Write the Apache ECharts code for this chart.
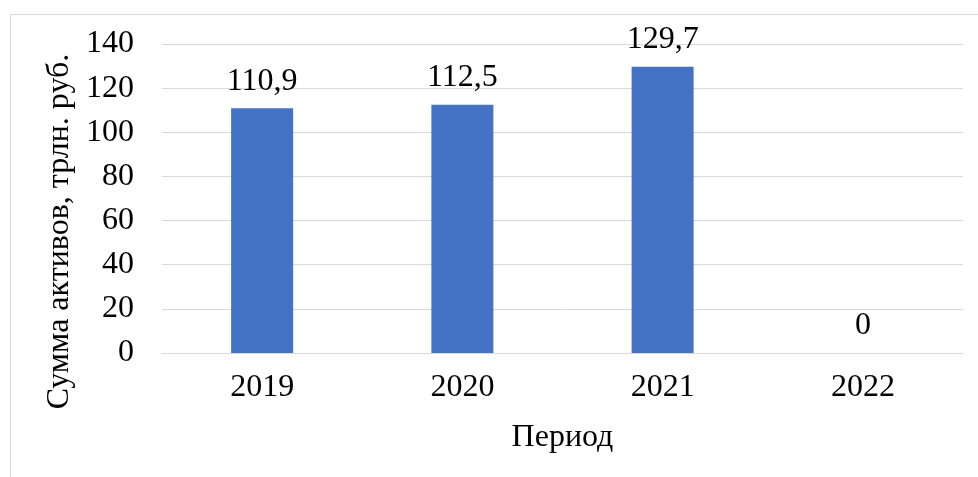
<!DOCTYPE html>
<html>
<head>
<meta charset="utf-8">
<script src="https://cdn.jsdelivr.net/npm/echarts@6/dist/echarts.min.js"></script>
<style>html,body{margin:0;padding:0;background:#fff;}#c{width:978px;height:477px;}</style>
</head>
<body>
<div id="c"></div>
<script>
var categories = ['2019', '2020', '2021', '2022'];
var values = [110.9, 112.5, 129.7, 0];
var yTicks = [0, 20, 40, 60, 80, 100, 120, 140];

var FONT = 'Liberation Serif';
var FS = 32;
var chart = echarts.init(document.getElementById('c'));
chart.setOption({
  animation: false,
  backgroundColor: '#fff',
  graphic: [{
    type: 'rect', left: 8, top: 12,
    shape: { width: 1000, height: 500 },
    style: { fill: 'none', stroke: '#d9d9d9', lineWidth: 1 }
  }],
  grid: { left: 162, right: 15, top: 44, bottom: 124 },
  xAxis: {
    type: 'category',
    data: categories,
    axisLine: { show: true, lineStyle: { color: '#d9d9d9', width: 1 } },
    axisTick: { show: false },
    axisLabel: { color: '#000', fontFamily: FONT, fontSize: FS, margin: 19 },
    name: 'Период',
    nameLocation: 'middle',
    nameGap: 69,
    nameTextStyle: { color: '#000', fontFamily: FONT, fontSize: FS }
  },
  yAxis: {
    type: 'value',
    min: yTicks[0],
    max: yTicks[yTicks.length - 1],
    interval: 20,
    axisLine: { show: false },
    axisTick: { show: false },
    splitLine: { lineStyle: { color: '#d9d9d9', width: 1 } },
    axisLabel: { color: '#000', fontFamily: FONT, fontSize: FS, margin: 28 },
    name: 'Сумма активов, трлн. руб.',
    nameLocation: 'middle',
    nameGap: 84,
    nameTextStyle: { color: '#000', fontFamily: FONT, fontSize: FS, padding: [0, 66, 0, 0] }
  },
  series: [{
    type: 'bar',
    data: values,
    barWidth: 62,
    itemStyle: { color: '#4472c4' },
    label: {
      show: true,
      position: 'top',
      distance: 11,
      color: '#000',
      fontFamily: FONT,
      fontSize: FS,
      formatter: function (p) { return String(p.value).replace('.', ','); }
    }
  }]
});
</script>
</body>
</html>
